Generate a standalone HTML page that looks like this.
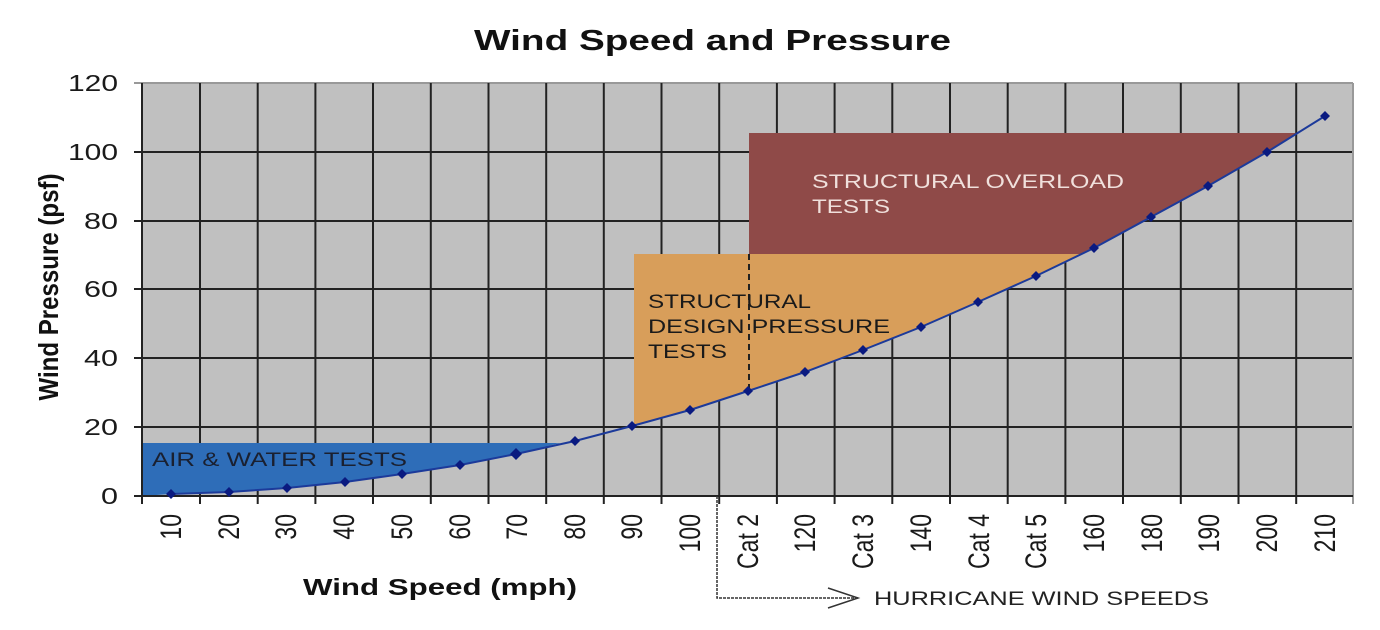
<!DOCTYPE html>
<html><head><meta charset="utf-8"><style>
html,body{margin:0;padding:0;background:#fff;}
svg{display:block;font-family:"Liberation Sans",Arial,sans-serif;}
</style></head><body>
<svg width="1380" height="630" viewBox="0 0 1380 630" xmlns="http://www.w3.org/2000/svg">
<rect width="1380" height="630" fill="#fff"/>
<text x="474" y="50" font-size="29" font-weight="bold" fill="#111" textLength="477" lengthAdjust="spacingAndGlyphs">Wind Speed and Pressure</text>
<rect x="142" y="83" width="1211" height="413" fill="#c0c0c0"/>
<g stroke="#222" stroke-width="2">
<line x1="134" y1="83" x2="1353" y2="83" stroke="#999"/>
<line x1="134" y1="152" x2="1353" y2="152"/>
<line x1="134" y1="221" x2="1353" y2="221"/>
<line x1="134" y1="289" x2="1353" y2="289"/>
<line x1="134" y1="358" x2="1353" y2="358"/>
<line x1="134" y1="427" x2="1353" y2="427"/>
</g>
<g stroke="#222" stroke-width="2">
<line x1="200" y1="83" x2="200" y2="504"/><line x1="257.7" y1="83" x2="257.7" y2="504"/>
<line x1="315.4" y1="83" x2="315.4" y2="504"/><line x1="373" y1="83" x2="373" y2="504"/>
<line x1="430.8" y1="83" x2="430.8" y2="504"/><line x1="488.5" y1="83" x2="488.5" y2="504"/>
<line x1="546.2" y1="83" x2="546.2" y2="504"/><line x1="603.8" y1="83" x2="603.8" y2="504"/>
<line x1="661.5" y1="83" x2="661.5" y2="504"/><line x1="719.2" y1="83" x2="719.2" y2="504"/>
<line x1="776.9" y1="83" x2="776.9" y2="504"/><line x1="834.6" y1="83" x2="834.6" y2="504"/>
<line x1="892.3" y1="83" x2="892.3" y2="504"/><line x1="950" y1="83" x2="950" y2="504"/>
<line x1="1007.7" y1="83" x2="1007.7" y2="504"/><line x1="1065.4" y1="83" x2="1065.4" y2="504"/>
<line x1="1123" y1="83" x2="1123" y2="504"/><line x1="1180.8" y1="83" x2="1180.8" y2="504"/>
<line x1="1238.5" y1="83" x2="1238.5" y2="504"/><line x1="1296.2" y1="83" x2="1296.2" y2="504"/>
<line x1="1353" y1="83" x2="1353" y2="504" stroke="#999"/>
</g>
<polygon points="142,443 560,443 516,454 460,465 402,474 345,482 287,488 229,492 171,494 142,496" fill="#2e6db8"/>
<polygon points="634,254 1080,254 1036,276 978,302 921,327 863,350 805,372 748,391 690,410 634,425" fill="#d89e5a"/>
<polygon points="749,133 1297,133 1267,152 1208,187 1151,217 1094,247 1080,254 749,254" fill="#8f4a48"/>
<line x1="749" y1="254" x2="749" y2="391" stroke="#222" stroke-width="2" stroke-dasharray="6,4"/>
<line x1="142" y1="83" x2="142" y2="504" stroke="#222" stroke-width="2"/>
<line x1="134" y1="496" x2="1353" y2="496" stroke="#222" stroke-width="2"/>
<polyline fill="none" stroke="#1c3a9a" stroke-width="2" points="171,494 229,492 287,488 345,482 402,474 460,465 516,454 575,441 632,426 690,410 748,391 805,372 863,350 921,327 978,302 1036,276 1094,248 1151,217 1208,186 1267,152 1325,116"/>
<g fill="#0a1a80">
<path d="M171,489l5,5l-5,5l-5,-5z"/><path d="M229,487l5,5l-5,5l-5,-5z"/><path d="M287,483l5,5l-5,5l-5,-5z"/>
<path d="M345,477l5,5l-5,5l-5,-5z"/><path d="M402,469l5,5l-5,5l-5,-5z"/><path d="M460,460l5,5l-5,5l-5,-5z"/>
<path d="M516,448l6,6l-6,6l-6,-6z"/><path d="M575,436l5,5l-5,5l-5,-5z"/><path d="M632,421l5,5l-5,5l-5,-5z"/>
<path d="M690,405l5,5l-5,5l-5,-5z"/><path d="M748,386l5,5l-5,5l-5,-5z"/><path d="M805,367l5,5l-5,5l-5,-5z"/>
<path d="M863,345l5,5l-5,5l-5,-5z"/><path d="M921,322l5,5l-5,5l-5,-5z"/><path d="M978,297l5,5l-5,5l-5,-5z"/>
<path d="M1036,271l5,5l-5,5l-5,-5z"/><path d="M1094,243l5,5l-5,5l-5,-5z"/><path d="M1151,212l5,5l-5,5l-5,-5z"/>
<path d="M1208,181l5,5l-5,5l-5,-5z"/><path d="M1267,147l5,5l-5,5l-5,-5z"/><path d="M1325,111l5,5l-5,5l-5,-5z"/>
</g>
<text x="152" y="466" font-size="19" fill="#1a2030" textLength="255" lengthAdjust="spacingAndGlyphs">AIR &amp; WATER TESTS</text>
<g font-size="19" fill="#1a1a1a">
<text x="648" y="308" textLength="163" lengthAdjust="spacingAndGlyphs">STRUCTURAL</text>
<text x="648" y="333" textLength="242" lengthAdjust="spacingAndGlyphs">DESIGN PRESSURE</text>
<text x="648" y="358" textLength="79" lengthAdjust="spacingAndGlyphs">TESTS</text>
</g>
<g font-size="19" fill="#f0e0dc">
<text x="812" y="188" textLength="312" lengthAdjust="spacingAndGlyphs">STRUCTURAL OVERLOAD</text>
<text x="812" y="213" textLength="78" lengthAdjust="spacingAndGlyphs">TESTS</text>
</g>
<g font-size="23" fill="#1a1a1a" text-anchor="end" lengthAdjust="spacingAndGlyphs">
<text x="118" y="91" textLength="50" lengthAdjust="spacingAndGlyphs">120</text>
<text x="118" y="160" textLength="50" lengthAdjust="spacingAndGlyphs">100</text>
<text x="118" y="229" textLength="34" lengthAdjust="spacingAndGlyphs">80</text>
<text x="118" y="297" textLength="34" lengthAdjust="spacingAndGlyphs">60</text>
<text x="118" y="366" textLength="34" lengthAdjust="spacingAndGlyphs">40</text>
<text x="118" y="435" textLength="34" lengthAdjust="spacingAndGlyphs">20</text>
<text x="118" y="504" textLength="17" lengthAdjust="spacingAndGlyphs">0</text>
</g>
<text transform="translate(58,287) rotate(-90) scale(1,1.25)" text-anchor="middle" font-size="22" font-weight="bold" fill="#111" textLength="227" lengthAdjust="spacingAndGlyphs">Wind Pressure (psf)</text>
<g font-size="23" fill="#1a1a1a" text-anchor="end">
<text transform="translate(181,514) rotate(-90) scale(1,1.3)">10</text>
<text transform="translate(239,514) rotate(-90) scale(1,1.3)">20</text>
<text transform="translate(296,514) rotate(-90) scale(1,1.3)">30</text>
<text transform="translate(354,514) rotate(-90) scale(1,1.3)">40</text>
<text transform="translate(412,514) rotate(-90) scale(1,1.3)">50</text>
<text transform="translate(470,514) rotate(-90) scale(1,1.3)">60</text>
<text transform="translate(527,514) rotate(-90) scale(1,1.3)">70</text>
<text transform="translate(585,514) rotate(-90) scale(1,1.3)">80</text>
<text transform="translate(642,514) rotate(-90) scale(1,1.3)">90</text>
<text transform="translate(700,514) rotate(-90) scale(1,1.3)">100</text>
<text transform="translate(758,514) rotate(-90) scale(1,1.3)">Cat 2</text>
<text transform="translate(815,514) rotate(-90) scale(1,1.3)">120</text>
<text transform="translate(873,514) rotate(-90) scale(1,1.3)">Cat 3</text>
<text transform="translate(931,514) rotate(-90) scale(1,1.3)">140</text>
<text transform="translate(989,514) rotate(-90) scale(1,1.3)">Cat 4</text>
<text transform="translate(1046,514) rotate(-90) scale(1,1.3)">Cat 5</text>
<text transform="translate(1104,514) rotate(-90) scale(1,1.3)">160</text>
<text transform="translate(1162,514) rotate(-90) scale(1,1.3)">180</text>
<text transform="translate(1219,514) rotate(-90) scale(1,1.3)">190</text>
<text transform="translate(1277,514) rotate(-90) scale(1,1.3)">200</text>
<text transform="translate(1335,514) rotate(-90) scale(1,1.3)">210</text>
</g>
<text x="303" y="595" font-size="23" font-weight="bold" fill="#111" textLength="274" lengthAdjust="spacingAndGlyphs">Wind Speed (mph)</text>
<polyline points="717,496 717,598 858,598" fill="none" stroke="#333" stroke-width="1.5" stroke-dasharray="3,1"/>
<polyline points="828,588 858,598 828,608" fill="none" stroke="#333" stroke-width="1.5"/>
<text x="874" y="605" font-size="19" fill="#222" textLength="335" lengthAdjust="spacingAndGlyphs">HURRICANE WIND SPEEDS</text>
</svg>
</body></html>
